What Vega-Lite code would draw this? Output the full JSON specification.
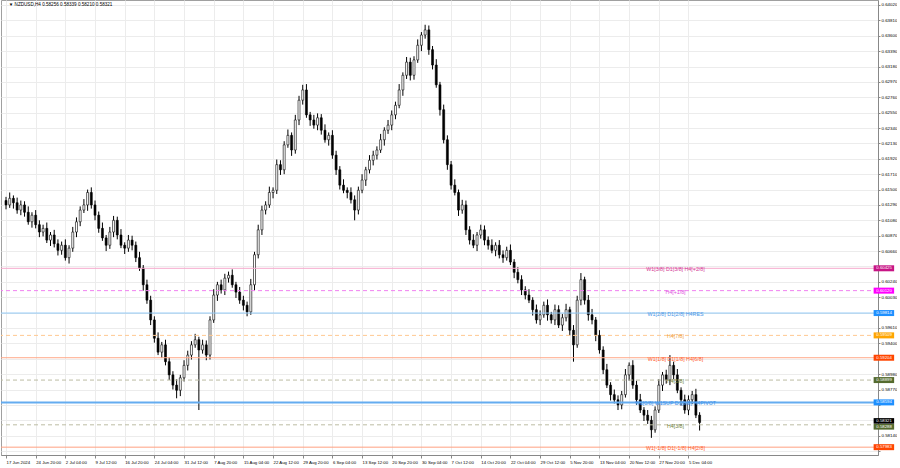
{
"$schema": "https://vega.github.io/schema/vega-lite/v6.json",
"width": 877, "height": 455, "padding": 0,
"autosize": {"type": "pad"},
"background": "white",
"config": {"view": {"stroke": "#a0a0a0"}, "font": "Liberation Sans"},
"datasets": {
"bars": [
{"i":0,"o":0.6135,"h":0.6140,"l":0.6123,"c":0.6129},
{"i":4,"o":0.6129,"h":0.6146,"l":0.6125,"c":0.6138},
{"i":8,"o":0.6138,"h":0.6142,"l":0.6124,"c":0.6132},
{"i":12,"o":0.6132,"h":0.6139,"l":0.6117,"c":0.6122},
{"i":16,"o":0.6122,"h":0.6135,"l":0.6115,"c":0.6129},
{"i":20,"o":0.6129,"h":0.6134,"l":0.6113,"c":0.6119},
{"i":24,"o":0.6119,"h":0.6127,"l":0.6102,"c":0.6106},
{"i":28,"o":0.6106,"h":0.6119,"l":0.6098,"c":0.6115},
{"i":32,"o":0.6115,"h":0.6122,"l":0.6097,"c":0.6102},
{"i":36,"o":0.6102,"h":0.6108,"l":0.6085,"c":0.6092},
{"i":40,"o":0.6092,"h":0.6102,"l":0.6086,"c":0.6097},
{"i":44,"o":0.6097,"h":0.6105,"l":0.6077,"c":0.6081},
{"i":48,"o":0.6081,"h":0.6092,"l":0.6073,"c":0.6088},
{"i":52,"o":0.6088,"h":0.6095,"l":0.6071,"c":0.6076},
{"i":56,"o":0.6076,"h":0.6082,"l":0.6060,"c":0.6067},
{"i":60,"o":0.6067,"h":0.6079,"l":0.6061,"c":0.6074},
{"i":64,"o":0.6074,"h":0.6082,"l":0.6053,"c":0.6057},
{"i":68,"o":0.6057,"h":0.6074,"l":0.6049,"c":0.6070},
{"i":72,"o":0.6070,"h":0.6099,"l":0.6065,"c":0.6092},
{"i":76,"o":0.6092,"h":0.6112,"l":0.6085,"c":0.6106},
{"i":80,"o":0.6106,"h":0.6127,"l":0.6100,"c":0.6122},
{"i":84,"o":0.6122,"h":0.6137,"l":0.6118,"c":0.6129},
{"i":88,"o":0.6129,"h":0.6150,"l":0.6121,"c":0.6146},
{"i":92,"o":0.6146,"h":0.6153,"l":0.6124,"c":0.6129},
{"i":96,"o":0.6129,"h":0.6135,"l":0.6108,"c":0.6115},
{"i":100,"o":0.6115,"h":0.6120,"l":0.6091,"c":0.6097},
{"i":104,"o":0.6097,"h":0.6105,"l":0.6080,"c":0.6084},
{"i":108,"o":0.6084,"h":0.6088,"l":0.6066,"c":0.6074},
{"i":112,"o":0.6074,"h":0.6099,"l":0.6069,"c":0.6092},
{"i":116,"o":0.6092,"h":0.6114,"l":0.6085,"c":0.6108},
{"i":120,"o":0.6108,"h":0.6113,"l":0.6082,"c":0.6088},
{"i":124,"o":0.6088,"h":0.6096,"l":0.6070,"c":0.6074},
{"i":128,"o":0.6074,"h":0.6078,"l":0.6062,"c":0.6070},
{"i":132,"o":0.6070,"h":0.6088,"l":0.6065,"c":0.6081},
{"i":136,"o":0.6081,"h":0.6087,"l":0.6067,"c":0.6074},
{"i":140,"o":0.6074,"h":0.6079,"l":0.6051,"c":0.6057},
{"i":144,"o":0.6057,"h":0.6065,"l":0.6039,"c":0.6043},
{"i":148,"o":0.6043,"h":0.6047,"l":0.6012,"c":0.6020},
{"i":152,"o":0.6020,"h":0.6027,"l":0.5994,"c":0.5999},
{"i":156,"o":0.5999,"h":0.6005,"l":0.5965,"c":0.5972},
{"i":160,"o":0.5972,"h":0.5977,"l":0.5941,"c":0.5947},
{"i":164,"o":0.5947,"h":0.5955,"l":0.5924,"c":0.5928},
{"i":168,"o":0.5928,"h":0.5942,"l":0.5920,"c":0.5938},
{"i":172,"o":0.5938,"h":0.5945,"l":0.5910,"c":0.5915},
{"i":176,"o":0.5915,"h":0.5921,"l":0.5890,"c":0.5897},
{"i":180,"o":0.5897,"h":0.5902,"l":0.5877,"c":0.5883},
{"i":184,"o":0.5883,"h":0.5891,"l":0.5865,"c":0.5876},
{"i":188,"o":0.5876,"h":0.5897,"l":0.5868,"c":0.5893},
{"i":192,"o":0.5893,"h":0.5917,"l":0.5888,"c":0.5910},
{"i":196,"o":0.5910,"h":0.5930,"l":0.5903,"c":0.5924},
{"i":200,"o":0.5924,"h":0.5943,"l":0.5918,"c":0.5938},
{"i":204,"o":0.5938,"h":0.5953,"l":0.5934,"c":0.5945},
{"i":208,"o":0.5945,"h":0.5949,"l":0.5849,"c":0.5931},
{"i":212,"o":0.5931,"h":0.5945,"l":0.5926,"c":0.5938},
{"i":216,"o":0.5938,"h":0.5944,"l":0.5917,"c":0.5924},
{"i":220,"o":0.5924,"h":0.5977,"l":0.5918,"c":0.5972},
{"i":224,"o":0.5972,"h":0.6014,"l":0.5968,"c":0.6006},
{"i":228,"o":0.6006,"h":0.6024,"l":0.5998,"c":0.6020},
{"i":232,"o":0.6020,"h":0.6027,"l":0.6008,"c":0.6013},
{"i":236,"o":0.6013,"h":0.6035,"l":0.6006,"c":0.6029},
{"i":240,"o":0.6029,"h":0.6038,"l":0.6023,"c":0.6033},
{"i":244,"o":0.6033,"h":0.6041,"l":0.6016,"c":0.6020},
{"i":248,"o":0.6020,"h":0.6024,"l":0.6002,"c":0.6010},
{"i":252,"o":0.6010,"h":0.6017,"l":0.5994,"c":0.5999},
{"i":256,"o":0.5999,"h":0.6005,"l":0.5985,"c":0.5992},
{"i":260,"o":0.5992,"h":0.5997,"l":0.5977,"c":0.5983},
{"i":264,"o":0.5983,"h":0.6028,"l":0.5979,"c":0.6020},
{"i":268,"o":0.6020,"h":0.6065,"l":0.6012,"c":0.6061},
{"i":272,"o":0.6061,"h":0.6102,"l":0.6056,"c":0.6095},
{"i":276,"o":0.6095,"h":0.6128,"l":0.6088,"c":0.6122},
{"i":280,"o":0.6122,"h":0.6134,"l":0.6116,"c":0.6129},
{"i":284,"o":0.6129,"h":0.6154,"l":0.6125,"c":0.6146},
{"i":288,"o":0.6146,"h":0.6153,"l":0.6138,"c":0.6149},
{"i":292,"o":0.6149,"h":0.6191,"l":0.6144,"c":0.6184},
{"i":296,"o":0.6184,"h":0.6190,"l":0.6170,"c":0.6177},
{"i":300,"o":0.6177,"h":0.6216,"l":0.6171,"c":0.6211},
{"i":304,"o":0.6211,"h":0.6232,"l":0.6207,"c":0.6224},
{"i":308,"o":0.6224,"h":0.6228,"l":0.6196,"c":0.6204},
{"i":312,"o":0.6204,"h":0.6252,"l":0.6199,"c":0.6245},
{"i":316,"o":0.6245,"h":0.6278,"l":0.6238,"c":0.6272},
{"i":320,"o":0.6272,"h":0.6293,"l":0.6266,"c":0.6286},
{"i":324,"o":0.6286,"h":0.6294,"l":0.6248,"c":0.6252},
{"i":328,"o":0.6252,"h":0.6256,"l":0.6237,"c":0.6245},
{"i":332,"o":0.6245,"h":0.6252,"l":0.6233,"c":0.6238},
{"i":336,"o":0.6238,"h":0.6254,"l":0.6231,"c":0.6248},
{"i":340,"o":0.6248,"h":0.6253,"l":0.6225,"c":0.6231},
{"i":344,"o":0.6231,"h":0.6239,"l":0.6214,"c":0.6218},
{"i":348,"o":0.6218,"h":0.6228,"l":0.6210,"c":0.6224},
{"i":352,"o":0.6224,"h":0.6231,"l":0.6192,"c":0.6197},
{"i":356,"o":0.6197,"h":0.6203,"l":0.6170,"c":0.6177},
{"i":360,"o":0.6177,"h":0.6182,"l":0.6150,"c":0.6156},
{"i":364,"o":0.6156,"h":0.6164,"l":0.6145,"c":0.6149},
{"i":368,"o":0.6149,"h":0.6153,"l":0.6138,"c":0.6146},
{"i":372,"o":0.6146,"h":0.6153,"l":0.6131,"c":0.6136},
{"i":376,"o":0.6136,"h":0.6142,"l":0.6108,"c":0.6122},
{"i":380,"o":0.6122,"h":0.6154,"l":0.6116,"c":0.6149},
{"i":384,"o":0.6149,"h":0.6171,"l":0.6145,"c":0.6163},
{"i":388,"o":0.6163,"h":0.6181,"l":0.6155,"c":0.6177},
{"i":392,"o":0.6177,"h":0.6197,"l":0.6172,"c":0.6190},
{"i":396,"o":0.6190,"h":0.6203,"l":0.6183,"c":0.6197},
{"i":400,"o":0.6197,"h":0.6209,"l":0.6191,"c":0.6204},
{"i":404,"o":0.6204,"h":0.6226,"l":0.6200,"c":0.6218},
{"i":408,"o":0.6218,"h":0.6235,"l":0.6210,"c":0.6231},
{"i":412,"o":0.6231,"h":0.6245,"l":0.6226,"c":0.6238},
{"i":416,"o":0.6238,"h":0.6258,"l":0.6231,"c":0.6252},
{"i":420,"o":0.6252,"h":0.6270,"l":0.6246,"c":0.6265},
{"i":424,"o":0.6265,"h":0.6294,"l":0.6261,"c":0.6286},
{"i":428,"o":0.6286,"h":0.6310,"l":0.6278,"c":0.6306},
{"i":432,"o":0.6306,"h":0.6331,"l":0.6301,"c":0.6324},
{"i":436,"o":0.6324,"h":0.6330,"l":0.6299,"c":0.6306},
{"i":440,"o":0.6306,"h":0.6332,"l":0.6300,"c":0.6327},
{"i":444,"o":0.6327,"h":0.6355,"l":0.6323,"c":0.6347},
{"i":448,"o":0.6347,"h":0.6365,"l":0.6339,"c":0.6361},
{"i":452,"o":0.6361,"h":0.6375,"l":0.6356,"c":0.6368},
{"i":456,"o":0.6368,"h":0.6374,"l":0.6334,"c":0.6341},
{"i":460,"o":0.6341,"h":0.6346,"l":0.6314,"c":0.6320},
{"i":464,"o":0.6320,"h":0.6328,"l":0.6289,"c":0.6293},
{"i":468,"o":0.6293,"h":0.6297,"l":0.6251,"c":0.6259},
{"i":472,"o":0.6259,"h":0.6266,"l":0.6213,"c":0.6218},
{"i":476,"o":0.6218,"h":0.6224,"l":0.6177,"c":0.6184},
{"i":480,"o":0.6184,"h":0.6189,"l":0.6150,"c":0.6156},
{"i":484,"o":0.6156,"h":0.6164,"l":0.6142,"c":0.6146},
{"i":488,"o":0.6146,"h":0.6150,"l":0.6114,"c":0.6122},
{"i":492,"o":0.6122,"h":0.6136,"l":0.6117,"c":0.6129},
{"i":496,"o":0.6129,"h":0.6135,"l":0.6088,"c":0.6095},
{"i":500,"o":0.6095,"h":0.6100,"l":0.6075,"c":0.6081},
{"i":504,"o":0.6081,"h":0.6089,"l":0.6070,"c":0.6074},
{"i":508,"o":0.6074,"h":0.6092,"l":0.6066,"c":0.6088},
{"i":512,"o":0.6088,"h":0.6102,"l":0.6083,"c":0.6095},
{"i":516,"o":0.6095,"h":0.6101,"l":0.6074,"c":0.6081},
{"i":520,"o":0.6081,"h":0.6086,"l":0.6068,"c":0.6074},
{"i":524,"o":0.6074,"h":0.6082,"l":0.6063,"c":0.6067},
{"i":528,"o":0.6067,"h":0.6078,"l":0.6059,"c":0.6074},
{"i":532,"o":0.6074,"h":0.6081,"l":0.6056,"c":0.6061},
{"i":536,"o":0.6061,"h":0.6067,"l":0.6050,"c":0.6057},
{"i":540,"o":0.6057,"h":0.6072,"l":0.6053,"c":0.6067},
{"i":544,"o":0.6067,"h":0.6075,"l":0.6047,"c":0.6051},
{"i":548,"o":0.6051,"h":0.6055,"l":0.6029,"c":0.6037},
{"i":552,"o":0.6037,"h":0.6044,"l":0.6022,"c":0.6027},
{"i":556,"o":0.6027,"h":0.6033,"l":0.6006,"c":0.6013},
{"i":560,"o":0.6013,"h":0.6018,"l":0.6000,"c":0.6006},
{"i":564,"o":0.6006,"h":0.6014,"l":0.5995,"c":0.5999},
{"i":568,"o":0.5999,"h":0.6003,"l":0.5978,"c":0.5986},
{"i":572,"o":0.5986,"h":0.5993,"l":0.5967,"c":0.5972},
{"i":576,"o":0.5972,"h":0.5985,"l":0.5965,"c":0.5979},
{"i":580,"o":0.5979,"h":0.5997,"l":0.5975,"c":0.5992},
{"i":584,"o":0.5992,"h":0.6000,"l":0.5971,"c":0.5979},
{"i":588,"o":0.5979,"h":0.5983,"l":0.5967,"c":0.5972},
{"i":592,"o":0.5972,"h":0.5993,"l":0.5965,"c":0.5986},
{"i":596,"o":0.5986,"h":0.5992,"l":0.5961,"c":0.5965},
{"i":600,"o":0.5965,"h":0.5980,"l":0.5957,"c":0.5975},
{"i":604,"o":0.5975,"h":0.5994,"l":0.5970,"c":0.5986},
{"i":608,"o":0.5986,"h":0.5990,"l":0.5951,"c":0.5958},
{"i":612,"o":0.5958,"h":0.5965,"l":0.5915,"c":0.5938},
{"i":616,"o":0.5938,"h":0.6005,"l":0.5934,"c":0.5999},
{"i":620,"o":0.5999,"h":0.6036,"l":0.5992,"c":0.6027},
{"i":624,"o":0.6027,"h":0.6031,"l":0.5993,"c":0.5999},
{"i":628,"o":0.5999,"h":0.6006,"l":0.5971,"c":0.5979},
{"i":632,"o":0.5979,"h":0.5987,"l":0.5966,"c":0.5972},
{"i":636,"o":0.5972,"h":0.5976,"l":0.5943,"c":0.5951},
{"i":640,"o":0.5951,"h":0.5958,"l":0.5926,"c":0.5931},
{"i":644,"o":0.5931,"h":0.5936,"l":0.5898,"c":0.5904},
{"i":648,"o":0.5904,"h":0.5912,"l":0.5879,"c":0.5883},
{"i":652,"o":0.5883,"h":0.5887,"l":0.5862,"c":0.5870},
{"i":656,"o":0.5870,"h":0.5877,"l":0.5858,"c":0.5863},
{"i":660,"o":0.5863,"h":0.5869,"l":0.5849,"c":0.5856},
{"i":664,"o":0.5856,"h":0.5875,"l":0.5850,"c":0.5870},
{"i":668,"o":0.5870,"h":0.5905,"l":0.5866,"c":0.5897},
{"i":672,"o":0.5897,"h":0.5914,"l":0.5889,"c":0.5910},
{"i":676,"o":0.5910,"h":0.5917,"l":0.5878,"c":0.5883},
{"i":680,"o":0.5883,"h":0.5889,"l":0.5856,"c":0.5863},
{"i":684,"o":0.5863,"h":0.5871,"l":0.5845,"c":0.5849},
{"i":688,"o":0.5849,"h":0.5853,"l":0.5834,"c":0.5842},
{"i":692,"o":0.5842,"h":0.5849,"l":0.5830,"c":0.5835},
{"i":696,"o":0.5835,"h":0.5841,"l":0.5811,"c":0.5822},
{"i":700,"o":0.5822,"h":0.5854,"l":0.5818,"c":0.5849},
{"i":704,"o":0.5849,"h":0.5891,"l":0.5845,"c":0.5883},
{"i":708,"o":0.5883,"h":0.5901,"l":0.5875,"c":0.5897},
{"i":712,"o":0.5897,"h":0.5904,"l":0.5885,"c":0.5890},
{"i":716,"o":0.5890,"h":0.5924,"l":0.5883,"c":0.5910},
{"i":720,"o":0.5910,"h":0.5915,"l":0.5891,"c":0.5897},
{"i":724,"o":0.5897,"h":0.5905,"l":0.5872,"c":0.5876},
{"i":728,"o":0.5876,"h":0.5880,"l":0.5855,"c":0.5863},
{"i":732,"o":0.5863,"h":0.5870,"l":0.5844,"c":0.5849},
{"i":736,"o":0.5849,"h":0.5869,"l":0.5842,"c":0.5863},
{"i":740,"o":0.5863,"h":0.5875,"l":0.5857,"c":0.5870},
{"i":744,"o":0.5870,"h":0.5878,"l":0.5838,"c":0.5842},
{"i":748,"o":0.5842,"h":0.5846,"l":0.5821,"c":0.5832}
],
"levels": [
{"v":0.60425,"lvl":"W1[3/8] D1[3/8] H4[+2/8]","kind":"solid"},
{"v":0.60120,"lvl":"H4[+1/8]","kind":"dashed"},
{"v":0.59814,"lvl":"W1[2/8] D1[2/8] H4RES","kind":"solid"},
{"v":0.59509,"lvl":"H4[7/8]","kind":"dashed"},
{"v":0.59204,"lvl":"W1[1/8] D1[1/8] H4[6/8]","kind":"solid"},
{"v":0.58899,"lvl":"H4[5/8]","kind":"dashed"},
{"v":0.58594,"lvl":"W1[0/8] W1SUP D1[0/8] H4PIVOT","kind":"pivot"},
{"v":0.58288,"lvl":"H4[3/8]","kind":"dashed"},
{"v":0.57983,"lvl":"W1[-1/8] D1[-1/8] H4[2/8]","kind":"solid"},
{"v":0.58321,"lvl":"price","kind":"price"}
],
"head": [{"t":"▼ NZDUSD,H4  0.58256 0.58339 0.58210 0.58321"}]
},
"layer": [
{
"data": {"name": "bars"},
"mark": {"type": "rule", "color": "#000", "strokeWidth": 1},
"encoding": {
"x": {"field": "i", "type": "quantitative",
 "scale": {"domain": [0, 935], "nice": false, "zero": false},
 "axis": {"title": null, "tickCount": 200, "values": [0,32,64,96,128,160,192,224,256,288,320,352,384,416,448,480,512,544,576,608,640,672,704,736],
  "labelExpr": "['17 Jun 2024','24 Jun 20:00','2 Jul 04:00','9 Jul 12:00','16 Jul 20:00','24 Jul 04:00','31 Jul 12:00','7 Aug 20:00','15 Aug 04:00','22 Aug 12:00','29 Aug 20:00','6 Sep 04:00','13 Sep 12:00','20 Sep 20:00','30 Sep 04:00','7 Oct 12:00','14 Oct 20:00','22 Oct 04:00','29 Oct 12:00','5 Nov 20:00','13 Nov 04:00','20 Nov 12:00','27 Nov 20:00','5 Dec 04:00'][round(datum.value/32)]",
  "labelAlign": "left", "labelFontSize": 4.3, "labelColor": "#000", "labelPadding": 2, "labelFlush": false, "labelOverlap": false,
  "tickSize": 3, "tickColor": "#888", "domainColor": "#888", "grid": true, "gridColor": "#ececec"}},
"y": {"field": "l", "type": "quantitative",
 "scale": {"domain": [0.57876, 0.64088], "nice": false, "zero": false},
 "axis": {"title": null, "orient": "right", "tickCount": 200, "values": [0.6402,0.6381,0.636,0.6339,0.6318,0.6297,0.6276,0.6255,0.6234,0.6213,0.6192,0.6171,0.615,0.6129,0.6108,0.6087,0.6066,0.6045,0.6024,0.6003,0.5982,0.5961,0.594,0.5919,0.5898,0.5877,0.5856,0.5835,0.5814,0.5793],
  "format": ".5f",
  "labelExpr": "(abs(datum.value-0.6045)<0.00001 || abs(datum.value-0.5982)<0.00001 || abs(datum.value-0.5919)<0.00001 || abs(datum.value-0.5856)<0.00001 || abs(datum.value-0.5835)<0.00001 || abs(datum.value-0.5793)<0.00001) ? '' : datum.label",
  "labelFontSize": 4.4, "labelColor": "#000", "labelPadding": 1, "labelOverlap": false,
  "tickSize": 2, "tickColor": "#888", "domainColor": "#888", "grid": true, "gridColor": "#ececec"}},
"y2": {"field": "h"}
}
},
{
"data": {"name": "bars"},
"mark": {"type": "bar", "size": 2, "stroke": "#000", "strokeWidth": 0.6},
"encoding": {
"x": {"field": "i", "type": "quantitative"},
"y": {"field": "o", "type": "quantitative"},
"y2": {"field": "c"},
"fill": {"condition": {"test": "datum.c >= datum.o", "value": "#ffffff"}, "value": "#000000"}
}
},
{
"data": {"name": "levels"},
"transform": [{"filter": "datum.kind === 'solid'"}],
"mark": {"type": "rule", "strokeWidth": 1},
"encoding": {
"y": {"field": "v", "type": "quantitative"},
"color": {"field": "lvl", "type": "nominal", "legend": null,
 "scale": {"domain": ["W1[3/8] D1[3/8] H4[+2/8]","W1[2/8] D1[2/8] H4RES","W1[1/8] D1[1/8] H4[6/8]","W1[-1/8] D1[-1/8] H4[2/8]"],
  "range": ["#f5a8cc","#90c8f5","#ffa888","#ffa080"]}}
}
},
{
"data": {"name": "levels"},
"transform": [{"filter": "datum.kind === 'dashed'"}],
"mark": {"type": "rule", "strokeWidth": 1, "strokeDash": [4, 3]},
"encoding": {
"y": {"field": "v", "type": "quantitative"},
"color": {"field": "lvl", "type": "nominal", "legend": null,
 "scale": {"domain": ["H4[+1/8]","H4[7/8]","H4[5/8]","H4[3/8]"],
  "range": ["#f080f0","#ffc890","#bcbca4","#bcbca4"]}}
}
},
{
"data": {"name": "levels"},
"transform": [{"filter": "datum.kind === 'pivot'"}],
"mark": {"type": "rule", "strokeWidth": 2, "color": "#64acf0"},
"encoding": {
"y": {"field": "v", "type": "quantitative"}
}
},
{
"data": {"name": "levels"},
"transform": [{"filter": "datum.kind !== 'price'"}],
"mark": {"type": "text", "fontSize": 5.3, "align": "center", "baseline": "middle", "dy": 1},
"encoding": {
"x": {"datum": 722, "type": "quantitative"},
"y": {"field": "v", "type": "quantitative"},
"text": {"field": "lvl"},
"color": {"field": "lvl", "type": "nominal", "legend": null,
 "scale": {"domain": ["W1[3/8] D1[3/8] H4[+2/8]","H4[+1/8]","W1[2/8] D1[2/8] H4RES","H4[7/8]","W1[1/8] D1[1/8] H4[6/8]","H4[5/8]","W1[0/8] W1SUP D1[0/8] H4PIVOT","H4[3/8]","W1[-1/8] D1[-1/8] H4[2/8]"],
  "range": ["#d23c96","#e050e0","#4a96e6","#f0a040","#ff6030","#6f7f40","#3a8ee8","#6f7f40","#ff6030"]}}
}
},
{
"data": {"name": "levels"},
"transform": [{"filter": "datum.kind !== 'price' && datum.lvl !== 'H4[3/8]'"}],
"mark": {"type": "point", "filled": true, "opacity": 1, "size": 16, "shape": "M-5.25,-1.5H5V1.5H-5.25Z"},
"encoding": {
"x": {"datum": 947, "type": "quantitative"},
"y": {"field": "v", "type": "quantitative"},
"color": {"field": "lvl", "type": "nominal", "legend": null,
 "scale": {"domain": ["W1[3/8] D1[3/8] H4[+2/8]","H4[+1/8]","W1[2/8] D1[2/8] H4RES","H4[7/8]","W1[1/8] D1[1/8] H4[6/8]","H4[5/8]","W1[0/8] W1SUP D1[0/8] H4PIVOT","W1[-1/8] D1[-1/8] H4[2/8]"],
  "range": ["#c71585","#ff00ff","#1e90ff","#ffa500","#ff4500","#556b2f","#1e90ff","#ff4500"]}}
}
},
{
"data": {"name": "levels"},
"transform": [{"filter": "datum.kind !== 'price' && datum.lvl !== 'H4[3/8]'"}],
"mark": {"type": "text", "fontSize": 4.3, "align": "center", "baseline": "middle", "color": "#ffffff"},
"encoding": {
"x": {"datum": 947, "type": "quantitative"},
"y": {"field": "v", "type": "quantitative"},
"text": {"field": "v", "type": "quantitative", "format": ".5f"}
}
},
{
"data": {"name": "levels"},
"transform": [{"filter": "datum.lvl === 'H4[3/8]'"}],
"mark": {"type": "point", "filled": true, "opacity": 1, "size": 16, "color": "#556b2f", "yOffset": 2, "shape": "M-5.25,-1.4H5V1.4H-5.25Z"},
"encoding": {
"x": {"datum": 947, "type": "quantitative"},
"y": {"field": "v", "type": "quantitative"}
}
},
{
"data": {"name": "levels"},
"transform": [{"filter": "datum.lvl === 'H4[3/8]'"}],
"mark": {"type": "text", "fontSize": 4.3, "align": "center", "baseline": "middle", "color": "#ffffff", "yOffset": 2},
"encoding": {
"x": {"datum": 947, "type": "quantitative"},
"y": {"field": "v", "type": "quantitative"},
"text": {"field": "v", "type": "quantitative", "format": ".5f"}
}
},
{
"data": {"name": "levels"},
"transform": [{"filter": "datum.kind === 'price'"}],
"mark": {"type": "point", "filled": true, "opacity": 1, "size": 16, "color": "#000000", "yOffset": -1.5, "shape": "M-5.25,-1.4H5V1.4H-5.25Z"},
"encoding": {
"x": {"datum": 947, "type": "quantitative"},
"y": {"field": "v", "type": "quantitative"}
}
},
{
"data": {"name": "levels"},
"transform": [{"filter": "datum.kind === 'price'"}],
"mark": {"type": "text", "fontSize": 4.3, "align": "center", "baseline": "middle", "color": "#ffffff", "yOffset": -1.5},
"encoding": {
"x": {"datum": 947, "type": "quantitative"},
"y": {"field": "v", "type": "quantitative"},
"text": {"field": "v", "type": "quantitative", "format": ".5f"}
}
},
{
"data": {"name": "head"},
"mark": {"type": "text", "fontSize": 4.6, "align": "left", "baseline": "middle", "color": "#000"},
"encoding": {
"x": {"datum": 3, "type": "quantitative"},
"y": {"datum": 0.6402, "type": "quantitative"},
"text": {"field": "t"}
}
}
],
"resolve": {"scale": {"color": "independent"}}
}
